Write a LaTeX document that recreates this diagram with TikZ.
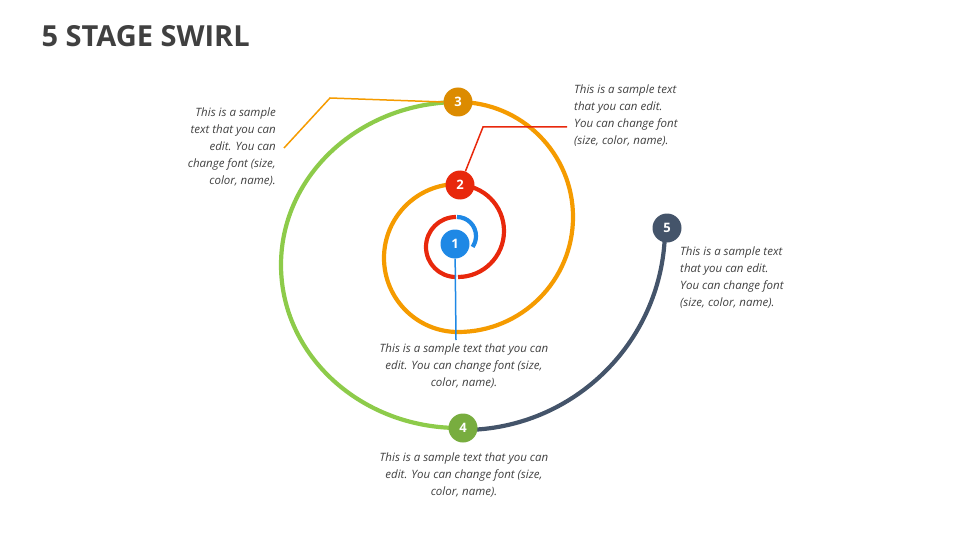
\documentclass[tikz,border=0pt]{standalone}
\usepackage{fontspec}
\setmainfont{Open Sans}
\begin{document}
\begin{tikzpicture}[x=1pt,y=-1pt,
  ring/.style={line width=4.2pt},
  num/.style={circle,minimum size=29pt,inner sep=0pt,text=white,font=\fontsize{13}{13}\selectfont\bfseries},
  txt/.style={font=\fontsize{11.5}{17}\selectfont\itshape,text=black!75,inner sep=0pt}]
\definecolor{cb}{HTML}{1E88E5}
\definecolor{cr}{HTML}{E8280C}
\definecolor{co}{HTML}{F59B00}
\definecolor{cg}{HTML}{8DCB4A}
\definecolor{cd}{HTML}{44546A}
\useasboundingbox (0,0) rectangle (960,540);
\node[anchor=west,font=\fontsize{29}{29}\selectfont\bfseries,text=black!75] (title) at (38,36) {5 STAGE SWIRL};
% spiral
\draw[ring,cb] (457,217) arc[start angle=-90,end angle=35,radius=19];
\draw[ring,cr] (456,217) arc[start angle=-90,end angle=-270,radius=30];
\draw[ring,cr] (458,277) arc[start angle=90,end angle=-90,radius=46];
\draw[ring,co] (458,184) arc[start angle=-90,end angle=-270,radius=74];
\draw[ring,co] (458,332) arc[start angle=90,end angle=-90,radius=115];
\draw[ring,cg] (459,102) arc[start angle=-90,end angle=-270,x radius=178,y radius=163];
\draw[ring,cd] (463,430) arc[start angle=90,end angle=0,radius=202];
% nodes
\node[num,fill=cb] (n1) at (455,244) {1};
\node[num,fill=cr] (n2) at (460,185) {2};
\node[num,fill=co!90!black] (n3) at (458,102) {3};
\node[num,fill=cg!85!black] (n4) at (463,428) {4};
\node[num,fill=cd] (n5) at (667,228) {5};
% callouts
\coordinate (e1) at (456,340);
\draw[cb,line width=1.5pt] (n1) -- (e1);
\coordinate (c2a) at (483,127); \coordinate (c2b) at (567,127);
\draw[cr,line width=1.5pt] (n2) -- (c2a) -- (c2b);
\coordinate (c3a) at (330,98); \coordinate (c3b) at (284,148);
\draw[co,line width=1.5pt] (n3.west) -- (c3a) -- (c3b);
% texts
\node[txt,align=center,anchor=north] (t1) at (464,344) {This is a sample text that you can\\edit. You can change font (size,\\color, name).};
\node[txt,align=left,anchor=north west] (t2) at (574,85) {This is a sample text\\that you can edit.\\You can change font\\(size, color, name).};
\node[txt,align=right,anchor=north east] (t3) at (276,108) {This is a sample\\text that you can\\edit. You can\\change font (size,\\color, name).};
\node[txt,align=left,anchor=north west] (t5) at (680,247) {This is a sample text\\that you can edit.\\You can change font\\(size, color, name).};
\node[txt,align=center,anchor=north] (t4) at (464,453) {This is a sample text that you can\\edit. You can change font (size,\\color, name).};
\end{tikzpicture}
\end{document}
